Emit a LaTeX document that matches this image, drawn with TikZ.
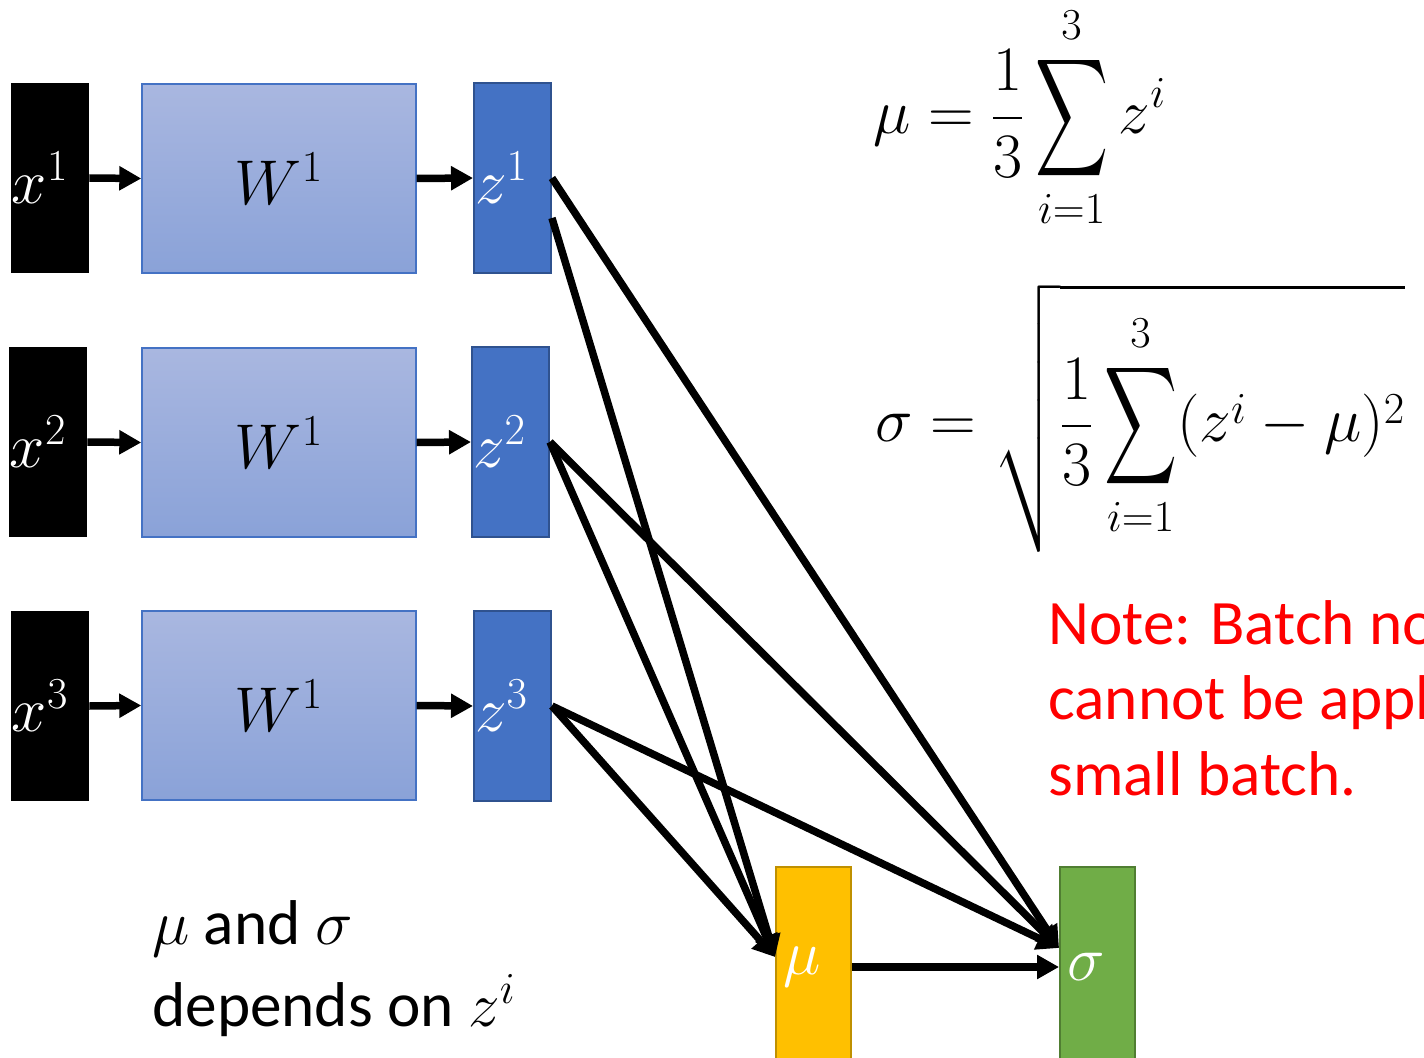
\RequirePackage{fix-cm}
\documentclass[tikz,border=0pt]{standalone}
\usepackage{exscale}
\DeclareFontShape{OMX}{cmex}{m}{n}{<->cmex10}{}
\usepackage[no-math]{fontspec}
\setmainfont{Carlito}
\usetikzlibrary{arrows.meta}

\definecolor{azulclaro}{HTML}{A9B7E0}
\definecolor{azulmedio}{HTML}{8AA2D8}
\definecolor{azul}{HTML}{4472C4}
\definecolor{azuloscuro}{HTML}{2F528F}
\definecolor{oro}{HTML}{FFC000}
\definecolor{orooscuro}{HTML}{BF9000}
\definecolor{verde}{HTML}{70AD47}
\definecolor{verdeoscuro}{HTML}{507E32}

\newcommand{\sumag}{\mathop{\vcenter{\hbox{\scalebox{0.8}[1.3]{$\displaystyle\sum$}}}}\limits}

\begin{document}
\begin{tikzpicture}[
      every node/.style={font=\fontsize{36}{43}\selectfont, align=center, inner sep=0pt},
      entrada/.style={fill=black, text=white, minimum width=1.56cm, minimum height=3.8cm, text width=1.52cm, align=left},
      pesos/.style={draw=azul, line width=0.8pt, top color=azulclaro, bottom color=azulmedio, minimum width=5.48cm, minimum height=3.78cm},
      salida/.style={draw=azuloscuro, line width=1.1pt, fill=azul, text=white, minimum width=1.54cm, minimum height=3.8cm, text width=1.5cm, align=left},
      media/.style={draw=orooscuro, line width=1.1pt, fill=oro, text=white, minimum width=1.5cm, minimum height=4cm, text width=1.2cm, align=left},
      desv/.style={draw=verdeoscuro, line width=1.1pt, fill=verde, text=white, minimum width=1.5cm, minimum height=4cm, text width=1.2cm, align=left},
      flecha/.style={line width=0.15cm, -{Triangle[length=0.44cm,width=0.46cm]}},
      formula/.style={anchor=west},
      nota/.style={text=red, align=left}
    ]
    \useasboundingbox (0,0) rectangle (28.48,-21.16);
    \clip (0,0) rectangle (28.48,-21.16);

    \node[entrada] (x1) at (1.00,-3.56)  {$x^1$};
    \node[entrada] (x2) at (0.96,-8.84)  {$x^2$};
    \node[entrada] (x3) at (1.00,-14.12) {$x^3$};

    \node[pesos] (w1) at (5.58,-3.57)  {$W^1$};
    \node[pesos] (w2) at (5.58,-8.85)  {$W^1$};
    \node[pesos] (w3) at (5.58,-14.11) {$W^1$};

    \node[salida] (z1) at (10.25,-3.56)  {$z^1$};
    \node[salida] (z2) at (10.21,-8.84)  {$z^2$};
    \node[salida] (z3) at (10.25,-14.12) {$z^3$};

    \node[media] (mu)    at (16.27,-19.34) {$\mu$};
    \node[desv]  (sigma) at (21.95,-19.34) {$\sigma$};

    \node[formula] (fmu) at (17.46,-2.34)
      {$\displaystyle \mu = \frac{1}{3}\sumag_{i=1}^{3} z^i$};
    \node[formula] (fsigma) at (17.5,-8.36)
      {$\displaystyle \sigma = \sqrt{\frac{1}{3}\sumag_{i=1}^{3}(z^i-\mu)^2}$};

    \node[nota, anchor=north west] (nota) at (20.96,-12.0)
      {Note: Batch normalization\\cannot be applied on\\small batch.};
    \node[anchor=north west, align=left, font=\fontsize{36}{47}\selectfont] (dep) at (3.04,-18.0)
      {$\mu$ and $\sigma$\\depends on $z^i$};

    \draw[flecha] (x1.east) -- (w1.west);
    \draw[flecha] (x2.east) -- (w2.west);
    \draw[flecha] (x3.east) -- (w3.west);
    \draw[flecha] (w1.east) -- (z1.west);
    \draw[flecha] (w2.east) -- (z2.west);
    \draw[flecha] (w3.east) -- (z3.west);

    \draw[flecha] (z1.east) -- ([yshift=0.38cm]sigma.west);
    \draw[flecha] ([yshift=-0.8cm]z1.east) -- ([yshift=0.2cm]mu.west);
    \draw[flecha] (z2.east) -- ([yshift=0.38cm]sigma.west);
    \draw[flecha] (z2.east) -- ([yshift=0.2cm]mu.west);
    \draw[flecha] (z3.east) -- ([yshift=0.38cm]sigma.west);
    \draw[flecha] (z3.east) -- ([yshift=0.2cm]mu.west);
    \draw[flecha] (mu.east) -- (sigma.west);
  \end{tikzpicture}
\end{document}
